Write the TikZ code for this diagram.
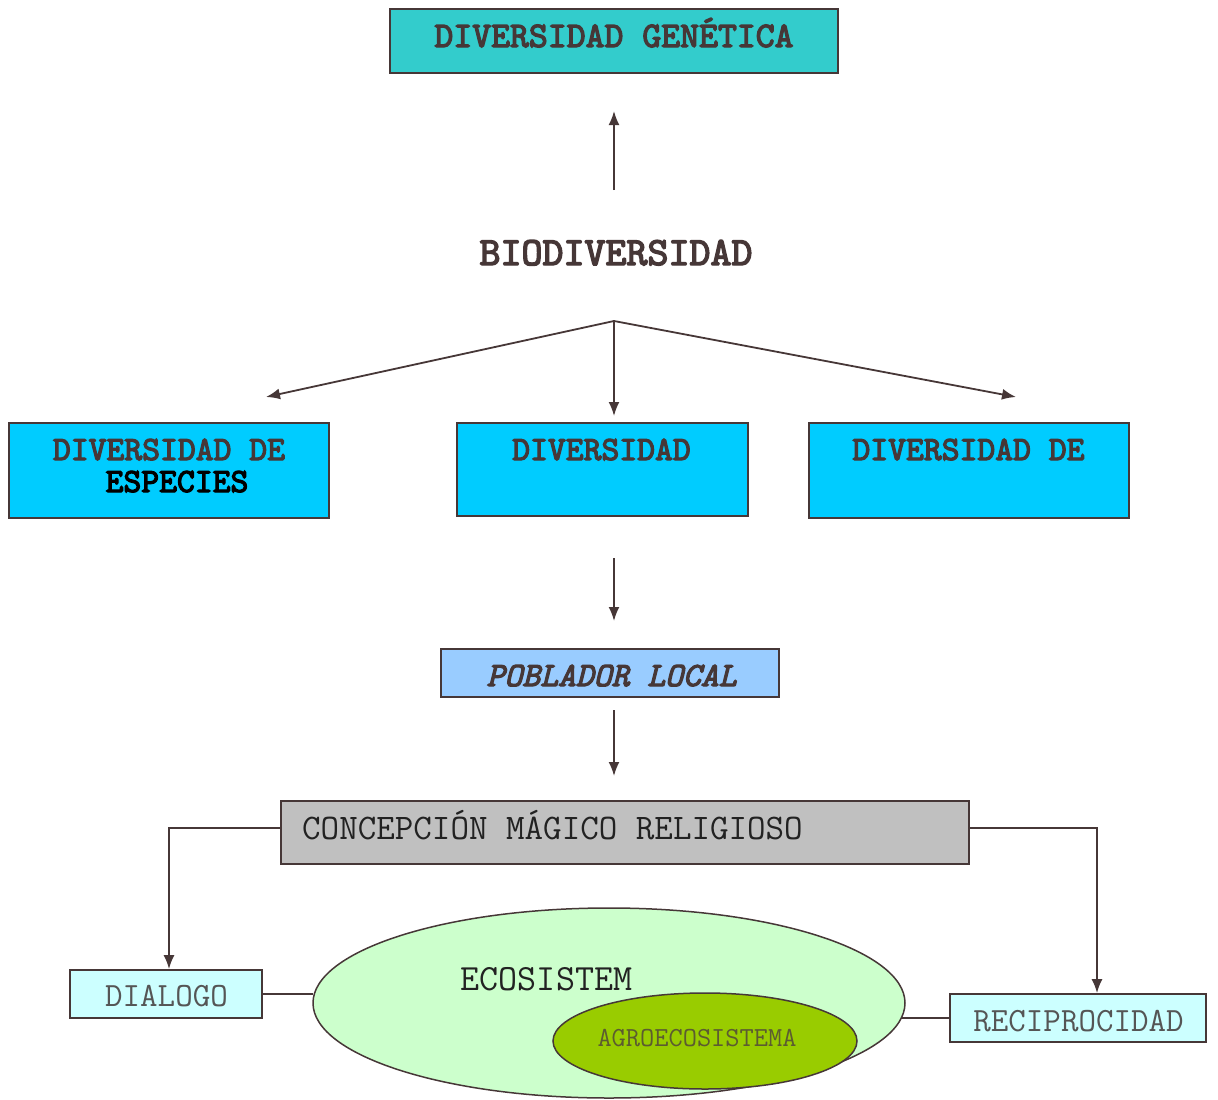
\documentclass[tikz,border=0pt]{standalone}
\usepackage{fontspec}
\usepackage{xcolor}
\usepackage{tikz}
\usetikzlibrary{arrows.meta}
\usetikzlibrary{calc}
\usetikzlibrary{shapes}
\newfontfamily\ttbold{lmmono10-regular}[Extension=.otf, FakeBold=3.5]
\newfontfamily\ttboldit{lmmono10-italic}[Extension=.otf, FakeBold=3.5]
\definecolor{ink}{HTML}{463737}
\definecolor{teal1}{HTML}{33CCCC}
\definecolor{sky1}{HTML}{00CCFF}
\definecolor{sky2}{HTML}{99CCFF}
\definecolor{grey1}{HTML}{C0C0C0}
\definecolor{pale1}{HTML}{CCFFFF}
\definecolor{mint1}{HTML}{CCFFCC}
\definecolor{olive1}{HTML}{99CC00}
\definecolor{olivetxt}{HTML}{5C5C30}
\definecolor{greytxt}{HTML}{555555}
\definecolor{dark}{HTML}{222222}
\newcommand{\fsz}[1]{\fontsize{#1}{#1}\selectfont}
\tikzstyle{box} = [draw=ink, line width=1.8pt, rectangle, inner sep=0pt]
\tikzstyle{oval} = [draw=ink, line width=1.5pt, ellipse, inner sep=0pt]
\tikzstyle{lbl} = [anchor=base, inner sep=0pt, text=ink]
\tikzstyle{arr} = [draw=ink, line width=1.8pt, -{Latex[length=14pt, width=11pt]}]
\tikzstyle{con} = [draw=ink, line width=1.8pt]

\begin{document}
\begin{tikzpicture}[x=1pt, y=-1pt]
	\useasboundingbox (0,0) rectangle (1218,1100);
	
	\node[box, fill=teal1, minimum width=448pt, minimum height=64pt] (gen) at (614,41) {};
	\node[lbl, font=\ttbold\fsz{36}] (genT) at (614,47) {DIVERSIDAD GENÉTICA};
	\node[lbl, font=\ttbold\fsz{40}] (bio) at (616,265) {BIODIVERSIDAD};
	
	\foreach \nm/\cx/\cy/\w/\h in {div1/169/470.5/320/95, div2/602.5/469.5/291/93, div3/969/470.5/320/95}
	{
		\node[box, fill=sky1, minimum width=\w pt, minimum height=\h pt] (\nm) at (\cx,\cy) {} ;
	}
	\node[lbl, font=\ttbold\fsz{34}] (div1T) at (169,460) {DIVERSIDAD DE};
	\node[lbl, font=\ttbold\fsz{34}, text=black] (div1S) at (177,492) {ESPECIES};
	\node[lbl, font=\ttbold\fsz{34}] (div2T) at (601.5,460) {DIVERSIDAD};
	\node[lbl, font=\ttbold\fsz{34}] (div3T) at (968.5,460) {DIVERSIDAD DE};
	
	\node[box, fill=sky2, minimum width=338pt, minimum height=48pt] (pob) at (610,673) {};
	\node[lbl, font=\ttboldit\fsz{34}] (pobT) at (611.5,686) {POBLADOR LOCAL};
	
	\node[box, fill=grey1, minimum width=688pt, minimum height=63pt] (conc) at (625,832.5) {};
	\node[lbl, anchor=base west, font=\ttfamily\fsz{36}, text=dark] (concT) at (302,839) {CONCEPCIÓN MÁGICO RELIGIOSO};
	
	\node[box, fill=pale1, minimum width=192pt, minimum height=48pt] (dial) at (166,994) {};
	\node[lbl, font=\ttfamily\fsz{34}, text=greytxt] (dialT) at (166.5,1006) {DIALOGO};
	\node[box, fill=pale1, minimum width=256pt, minimum height=48pt] (reci) at (1078,1018) {};
	\node[lbl, font=\ttfamily\fsz{34}, text=greytxt] (reciT) at (1078.5,1031) {RECIPROCIDAD};
	
	\draw[con] (dial.east) -- (dial.east -| 313,0);
	\draw[con] (reci.west) -- (reci.west -| 901,0);
	\node[oval, fill=mint1, minimum width=592pt, minimum height=190pt] (ecos) at (609,1003) {};
	\node[oval, fill=olive1, minimum width=304pt, minimum height=96pt] (agro) at (705,1041) {};
	\node[lbl, font=\ttfamily\fsz{37}, text=dark] (ecosT) at (546.5,990) {ECOSISTEM};
	\node[lbl, font=\ttfamily\fsz{27.6}, text=olivetxt] (agroT) at (697,1046) {AGROECOSISTEMA};
	
	\coordinate (upS) at (614,190);
	\coordinate (upE) at (614,111);
	\coordinate (split) at (614,321);
	\coordinate (t1) at (266,397);
	\coordinate (t2) at (614,416);
	\coordinate (t3) at (1016,397);
	\coordinate (p1) at (614,558);
	\coordinate (p2) at (614,621);
	\coordinate (q1) at (614,710);
	\coordinate (q2) at (614,776);
	
	\draw[arr] (upS) -- (upE);
	\foreach \t in {t1, t2, t3}
	{
		\draw[arr] (split) -- (\t);
	}
	\draw[arr] (p1) -- (p2);
	\draw[arr] (q1) -- (q2);
	\draw[arr] ([yshift=4.5pt]conc.west) -| ([xshift=3pt]dial.north);
	\draw[arr] ([yshift=4.5pt]conc.east) -| ([xshift=19pt]reci.north);
\end{tikzpicture}
\end{document}
